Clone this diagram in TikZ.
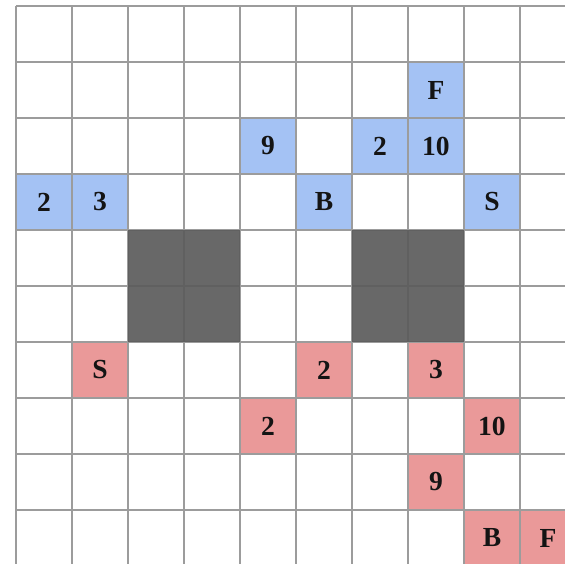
\documentclass[tikz,border=0pt]{standalone}
\usepackage{fontspec}
\setmainfont{Liberation Serif}
\usetikzlibrary{positioning}
\definecolor{fwdcol}{HTML}{A4C2F4}
\definecolor{bwdcol}{HTML}{EA9999}
\definecolor{wallcol}{HTML}{5C5C5C}
\definecolor{linecol}{HTML}{9C9C9C}

\begin{document}
\begin{tikzpicture}[
  cell/.style={rectangle, fill=#1, minimum size=1cm, inner sep=0pt,
               font=\fontsize{14}{16}\selectfont\bfseries, text=black!92},
  wall/.style={fill=wallcol, fill opacity=0.93},
  gridline/.style={draw=linecol, line width=0.7pt}
]
\clip (-0.2857,-9.9643) rectangle (9.8036,0.1071);

% blue cells
\node[cell=fwdcol] (bF)  at (7.5,-1.5) {F};
\node[cell=fwdcol] (b9)  at (4.5,-2.5) {9};
\node[cell=fwdcol] (b2)  at (6.5,-2.5) {2};
\node[cell=fwdcol] (b10) at (7.5,-2.5) {10};
\node[cell=fwdcol] (b2l) at (0.5,-3.5) {2};
\node[cell=fwdcol] (b3)  at (1.5,-3.5) {3};
\node[cell=fwdcol] (bB)  at (5.5,-3.5) {B};
\node[cell=fwdcol] (bS)  at (8.5,-3.5) {S};

% red cells
\node[cell=bwdcol] (rS)  at (1.5,-6.5) {S};
\node[cell=bwdcol] (r2)  at (5.5,-6.5) {2};
\node[cell=bwdcol] (r3)  at (7.5,-6.5) {3};
\node[cell=bwdcol] (r2l) at (4.5,-7.5) {2};
\node[cell=bwdcol] (r10) at (8.5,-7.5) {10};
\node[cell=bwdcol] (r9)  at (7.5,-8.5) {9};
\node[cell=bwdcol] (rB)  at (8.5,-9.5) {B};
\node[cell=bwdcol] (rF)  at (9.5,-9.5) {F};

\draw[gridline] (0,-10) grid (10,0);

% walls
\fill[wall] (2,-4) rectangle (4,-6);
\fill[wall] (6,-4) rectangle (8,-6);
\end{tikzpicture}
\end{document}
